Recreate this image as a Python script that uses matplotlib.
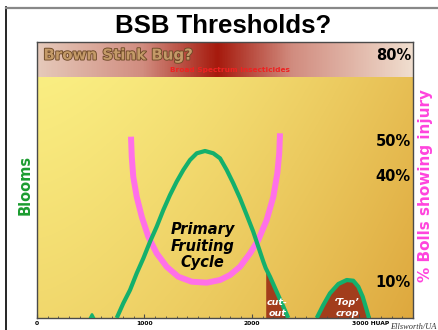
import numpy as np
import matplotlib
matplotlib.use("Agg")
import matplotlib.pyplot as plt
from matplotlib.colors import LinearSegmentedColormap
from matplotlib.lines import Line2D
from matplotlib.transforms import ScaledTranslation
import matplotlib.patheffects as pe
from matplotlib import font_manager

# ---- data ----
# primary fruiting cycle (bloom curve)
bloom_x = [742, 803, 866, 928, 990, 1052, 1114, 1176, 1238, 1300, 1362, 1424,
           1487, 1564, 1641, 1704, 1766, 1827, 1890, 1952, 2013, 2060, 2107,
           2129, 2169, 2231, 2293, 2339]
bloom_y = [0, 4.15, 7.91, 12.63, 16.87, 21.56, 25.80, 30.52, 34.76, 38.52,
           41.83, 44.65, 46.55, 47.20, 46.55, 45.13, 41.83, 38.07, 33.83,
           29.11, 24.39, 20.15, 15.91, 14.1, 11.67, 7.43, 3.19, 0]
# small early blip
early_x = [470, 512, 555]
early_y = [-1.5, 1.0, -1.5]
# 'top' crop curve
top_x = [2604, 2665, 2727, 2805, 2883, 2944, 2991, 3032, 3069, 3090]
top_y = [0, 3.67, 6.98, 9.61, 10.74, 10.54, 8.85, 6.02, 2.26, 0]
# % bolls showing injury threshold curve
inj_x = [875, 882, 896, 928, 975, 1036, 1114, 1207, 1315, 1440, 1580, 1704,
         1797, 1890, 1983, 2060, 2138, 2200, 2237, 2255, 2262]
inj_y = [51.24, 45.58, 39.93, 34.28, 28.63, 22.98, 18.28, 14.50, 11.67, 10.26,
         9.98, 10.74, 12.15, 14.50, 18.28, 22.04, 27.70, 34.28, 40.89, 46.55,
         52.20]
cutout_start = 2129

pct_values = [50, 40, 10]
pct_labels = ["50%", "40%", "10%"]
band_label = "80%"
xtick_vals = [0, 1000, 2000, 3000]
xtick_labels = ["0", "1000", "2000", "3000 HUAP"]

W, H = 439, 330
fx = lambda px: px / W
fy = lambda py: 1 - py / H

names = {f.name for f in font_manager.fontManager.ttflist}
narrow = "Liberation Sans Narrow" if "Liberation Sans Narrow" in names else "DejaVu Sans"

fig = plt.figure(figsize=(W / 100, H / 100), dpi=100)
fig.patch.set_facecolor("white")
ax = fig.add_axes([fx(37), fy(318), 376 / W, 276 / H])
ax.set_xlim(0, 3500)
ax.set_ylim(0, 78)

# yellow-to-amber backdrop (light upper-left, amber lower-right)
nx, ny = 300, 200
gx = np.linspace(0, 1, nx)[None, :]
gy = np.linspace(0, 1, ny)[:, None]
t = np.clip(0.68 * gx ** 1.5 + 0.32 * gy, 0, 1)
c0 = np.array([250, 238, 130]) / 255
c1 = np.array([222, 168, 62]) / 255
bg = c0[None, None, :] * (1 - t[..., None]) + c1[None, None, :] * t[..., None]
ax.imshow(bg, extent=(0, 3500, 0, 68), origin="upper", aspect="auto", zorder=0)

# top band gradient
band_cmap = LinearSegmentedColormap.from_list("band", [
    (0.0, (0.90, 0.79, 0.73)),
    (0.28, (0.82, 0.55, 0.50)),
    (0.48, (0.65, 0.10, 0.05)),
    (0.68, (0.82, 0.55, 0.50)),
    (1.0, (0.94, 0.87, 0.81))])
band = np.linspace(0, 1, 400)[None, :]
ax.imshow(band, cmap=band_cmap, extent=(0, 3500, 68, 78), aspect="auto", zorder=0)

# brown fills
bx = np.array(bloom_x, float)
by = np.array(bloom_y, float)
m = bx >= cutout_start
brown = "#a23d1c"
ax.fill_between(bx[m], 0, by[m], color=brown, zorder=1, lw=0)
ax.fill_between(top_x, 0, top_y, color=brown, zorder=1, lw=0)

green = "#14b06c"
ax.plot(bloom_x, bloom_y, color=green, lw=3.0, zorder=3, solid_capstyle="butt",
        solid_joinstyle="round")
ax.plot(top_x, top_y, color=green, lw=3.0, zorder=3, solid_capstyle="butt",
        solid_joinstyle="round")
ax.plot(early_x, early_y, color=green, lw=2.0, zorder=3)
ax.plot(inj_x, inj_y, color="#ff70e8", lw=4.3, zorder=2, solid_capstyle="butt",
        solid_joinstyle="round")

# spines and ticks
for s in ax.spines.values():
    s.set_color("#4a4a4a")
    s.set_linewidth(1.0)
ax.set_yticks([])
ax.set_xticks(xtick_vals)
ax.set_xticklabels(xtick_labels)
ax.set_xticks(np.arange(0, 3501, 100), minor=True)
ax.tick_params(axis="x", which="major", direction="in", length=3, width=0.8,
               color="#4a4a4a", pad=2, labelsize=4.3)
ax.tick_params(axis="x", which="minor", direction="in", length=1.8, width=0.6,
               color="#4a4a4a")
for lab in ax.get_xticklabels():
    lab.set_fontweight("bold")
last = ax.get_xticklabels()[-1]
last.set_horizontalalignment("left")
last.set_transform(last.get_transform() + ScaledTranslation(-7.5 / 100, 0, fig.dpi_scale_trans))

# band texts
ax.text(60, 74.3, "Brown Stink Bug?", family=narrow, weight="bold", fontsize=10.8,
        color="#c49a68", va="center", ha="left", zorder=4,
        path_effects=[pe.withStroke(linewidth=1.3, foreground="#6e4a28")])
ax.text(1797, 70.1, "Broad Spectrum Insecticides", color="#ee2222", weight="bold",
        fontsize=5.3, ha="center", va="center", zorder=4)
ax.text(3481, 74.3, band_label, weight="bold", fontsize=10.5, ha="right",
        va="center", zorder=4)
for v, l in zip(pct_values, pct_labels):
    ax.text(3481, v, l, weight="bold", fontsize=10.5, ha="right", va="center", zorder=4)

ax.text(1540, 20.3, "Primary\nFruiting\nCycle", weight="bold", style="italic",
        fontsize=10.5, ha="center", va="center", linespacing=1.15, zorder=4)
ax.text(2235, 4.3, "cut-", color="white", weight="bold", style="italic", fontsize=6.8,
        ha="center", va="center", zorder=4)
ax.text(2235, 1.2, "out", color="white", weight="bold", style="italic", fontsize=6.8,
        ha="center", va="center", zorder=4, clip_on=True)
ax.text(2885, 4.5, "\u2018Top\u2019", color="white", weight="bold", style="italic",
        fontsize=6.8, ha="center", va="center", zorder=4)
ax.text(2885, 1.4, "crop", color="white", weight="bold", style="italic",
        fontsize=6.8, ha="center", va="center", zorder=4, clip_on=True)

# figure texts
fig.text(fx(223), fy(26), "BSB Thresholds?", family="Liberation Sans", weight="bold",
         fontsize=18.5, ha="center", va="center")
fig.text(fx(25), fy(185), "Blooms", color="#1c9c30", weight="bold", fontsize=10.5,
         rotation=90, ha="center", va="center")
fig.text(fx(426), fy(186), "% Bolls showing injury", color="#ff44dd", weight="bold",
         fontsize=11, rotation=90, ha="center", va="center")
fig.text(fx(390), fy(327), "Ellsworth/UA", family="Liberation Serif", style="italic",
         fontsize=6, color="#333333", ha="left", va="center")

# outer frame
fig.add_artist(Line2D([fx(6), fx(6)], [fy(7), 0], color="black", lw=1.2,
                      transform=fig.transFigure))
fig.add_artist(Line2D([fx(6), 1], [fy(7.5), fy(7.5)], color="#888888", lw=1.6,
                      transform=fig.transFigure))

fig.savefig("out.png", dpi=100)
